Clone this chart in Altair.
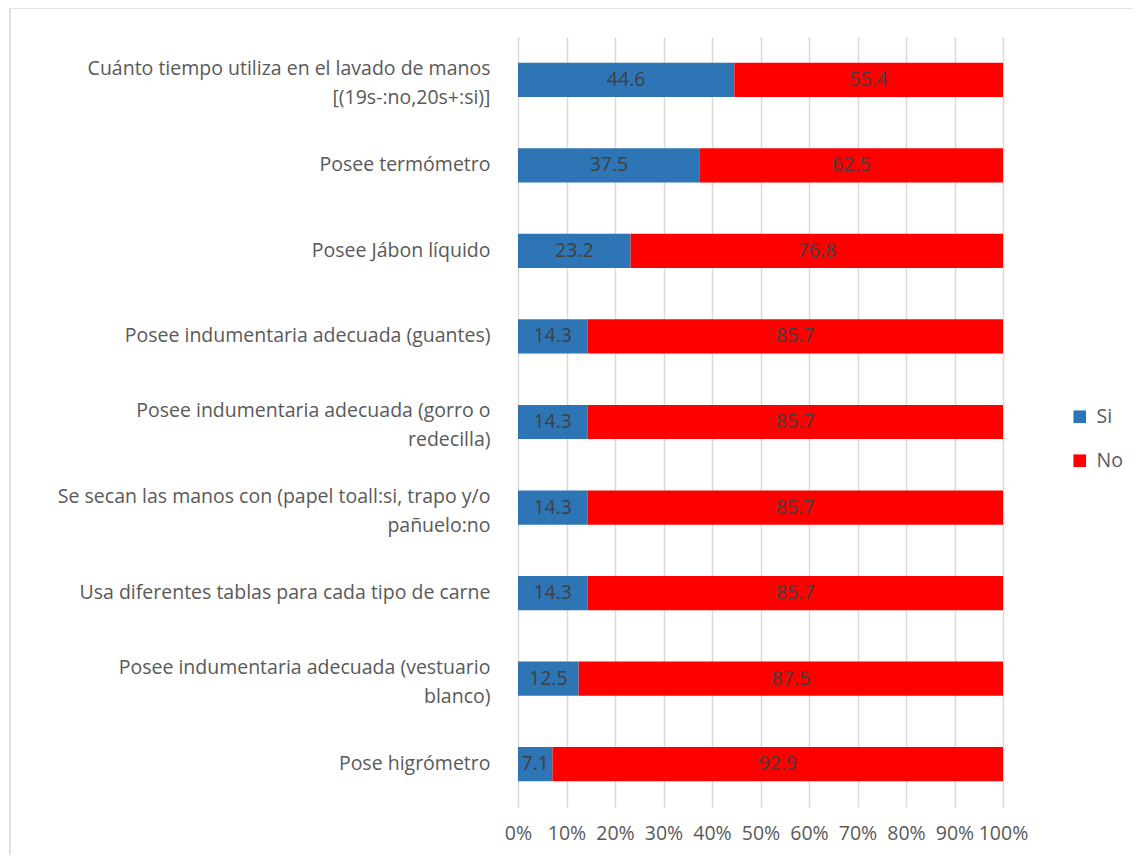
import altair as alt
import pandas as pd

categories = [
    "Cuánto tiempo utiliza en el lavado de manos|[(19s-:no,20s+:si)]",
    "Posee termómetro",
    "Posee Jábon líquido",
    "Posee indumentaria adecuada (guantes)",
    "Posee indumentaria adecuada (gorro o|redecilla)",
    "Se secan las manos con (papel toall:si, trapo y/o|pañuelo:no",
    "Usa diferentes tablas para cada tipo de carne",
    "Posee indumentaria adecuada (vestuario|blanco)",
    "Pose higrómetro",
]
si_values = [44.6, 37.5, 23.2, 14.3, 14.3, 14.3, 14.3, 12.5, 7.1]
no_values = [55.4, 62.5, 76.8, 85.7, 85.7, 85.7, 85.7, 87.5, 92.9]
series = ["Si", "No"]
colors = ["#2E75B6", "#FF0000"]

rows = []
for c, s, n in zip(categories, si_values, no_values):
    rows.append({"cat": c, "serie": "Si", "ord": 0, "val": s})
    rows.append({"cat": c, "serie": "No", "ord": 1, "val": n})
df = pd.DataFrame(rows)

FONT = "Open Sans"
GRAY = "#595959"
FS = 19.5

base = alt.Chart(df).transform_stack(
    stack="val", groupby=["cat"], as_=["x0", "x1"], sort=[alt.SortField("ord")]
).transform_calculate(
    p0="datum.x0 / 100", p1="datum.x1 / 100", pm="(datum.x0 + datum.x1) / 200"
)

y_enc = alt.Y(
    "cat:N",
    sort=categories,
    scale=alt.Scale(paddingInner=0.6, paddingOuter=0.3),
    axis=alt.Axis(
        title=None,
        labelExpr="split(datum.label, '|')",
        labelFont=FONT,
        labelFontSize=FS,
        labelColor=GRAY,
        labelLineHeight=29,
        labelPadding=28,
        labelLimit=520,
        labelOffset={"condition": {"test": "indexof(datum.value, '|') >= 0", "value": -11}, "value": 0},
        ticks=False,
        domain=True,
        domainColor="#d9d9d9",
        grid=False,
    ),
)

bars = base.mark_bar().encode(
    y=y_enc,
    x=alt.X(
        "p0:Q",
        scale=alt.Scale(domain=[0, 1]),
        axis=alt.Axis(
            title=None,
            format=".0%",
            values=[i / 10 for i in range(11)],
            labelFont=FONT,
            labelFontSize=FS,
            labelColor=GRAY,
            labelPadding=17,
            ticks=False,
            domain=False,
            grid=True,
            gridColor="#d9d9d9",
            gridWidth=1.5,
            labelFlush=False,
        ),
    ),
    x2="p1:Q",
    color=alt.Color(
        "serie:N",
        scale=alt.Scale(domain=series, range=colors),
        legend=alt.Legend(
            title=None,
            orient="none",
            legendX=552,
            legendY=370,
            symbolType="square",
            symbolSize=160,
            symbolStrokeWidth=0,
            labelFont=FONT,
            labelFontSize=FS,
            labelColor=GRAY,
            rowPadding=23,
            labelOffset=7,
        ),
    ),
)

labels = base.mark_text(font=FONT, fontSize=FS, color="#404040").encode(
    y=alt.Y("cat:N", sort=categories),
    x=alt.X("pm:Q"),
    text=alt.Text("val:Q", format=".1f"),
)

frame = alt.Chart(pd.DataFrame({"k": [0]})).mark_rect(
    fill=None, stroke="#d9d9d9", strokeWidth=1.5
).encode(
    x=alt.value(-508), x2=alt.value(621), y=alt.value(-29), y2=alt.value(825)
)

chart = alt.layer(frame, bars, labels).properties(
    width=485,
    height=770,
    padding={"left": 510, "top": 29, "right": 130, "bottom": 48},
    autosize=alt.AutoSizeParams(type="none"),
    background="white",
).configure_view(stroke=None)

chart.save("out.html", embed_options={"renderer": "svg", "actions": False})
